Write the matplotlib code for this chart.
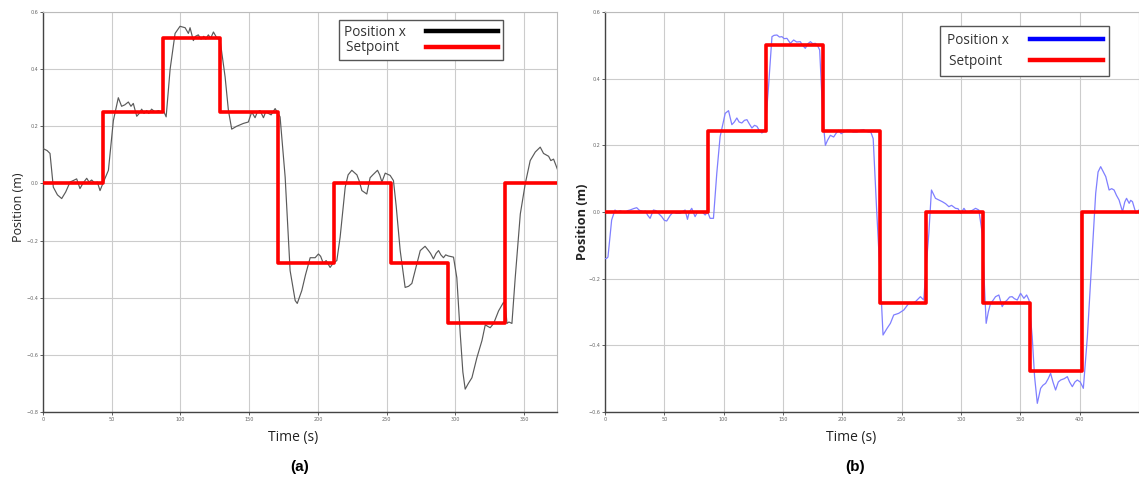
import matplotlib
matplotlib.use("Agg")
import matplotlib.pyplot as plt
from matplotlib.lines import Line2D

# ---------------- data ----------------
# (a) setpoint steps
sp_a_t = [0, 44, 87, 129, 171, 211.5, 253, 295, 336, 375]
sp_a_y = [0.0, 0.25, 0.51, 0.25, -0.28, 0.0, -0.28, -0.49, 0.0, 0.0]

# (a) measured position
pos_a_t = [0, 3, 5.1, 7.5, 10.5, 13.6, 16.5, 19.7, 22, 24.5, 26.9, 29, 31.8, 33.5, 35.4, 37.9, 39.5,
           41.5, 44, 47.6, 51.2, 54.8, 57.2, 59.5, 62.1, 64, 65.7, 68.2, 70, 71.8, 73.5, 75.5, 77,
           79, 81.5, 84, 86, 87.6, 89.6, 92.5, 96.1, 99.7, 103.4, 105.8, 107, 109.4, 111, 113, 115,
           117, 118.5, 120.3, 122, 124, 126.4, 128.9, 132.5, 134.9, 137.3, 140.9, 145.8, 149.4,
           151.9, 154.3, 156, 157.9, 160.4, 162, 164, 166, 168.9, 172.5, 176.2, 179.8, 183.5, 185,
           188.3, 191, 194.4, 198, 200.4, 202, 204, 206, 208.9, 211, 213.8, 216.2, 219.9, 222,
           224.7, 228.4, 230, 232, 235.6, 238, 240, 243.4, 245, 246.6, 249, 252.6, 255, 257, 259.9,
           263.5, 266, 268.4, 270.8, 274.5, 278, 280.5, 282, 284.1, 286, 287.8, 289.5, 291.4, 293,
           295, 298.7, 301.1, 303.6, 305.5, 307.2, 309.5, 312.1, 315.7, 319.4, 321.8, 323.5, 325.4,
           327.9, 331.5, 335.1, 336.5, 337.6, 339, 341.2, 343.6, 347.3, 350.9, 354.5, 358.2, 361.8,
           364.2, 366, 367.9, 369.5, 371.5, 373.5, 375]
pos_a_y = [0.122, 0.115, 0.105, -0.013, -0.04, -0.053, -0.03, 0.005, 0.01, 0.016, -0.018, 0.0,
           0.018, 0.005, 0.012, 0.0, 0.005, -0.025, 0.005, 0.046, 0.22, 0.30, 0.27, 0.275, 0.285,
           0.27, 0.28, 0.235, 0.245, 0.26, 0.245, 0.255, 0.245, 0.26, 0.25, 0.255, 0.25, 0.255,
           0.233, 0.40, 0.525, 0.55, 0.545, 0.525, 0.545, 0.50, 0.515, 0.52, 0.505, 0.515, 0.505,
           0.52, 0.508, 0.53, 0.51, 0.50, 0.373, 0.256, 0.19, 0.20, 0.21, 0.215, 0.25, 0.23, 0.25,
           0.255, 0.23, 0.25, 0.245, 0.24, 0.262, 0.233, 0.022, -0.305, -0.41, -0.42, -0.375,
           -0.32, -0.26, -0.26, -0.247, -0.255, -0.28, -0.27, -0.294, -0.28, -0.27, -0.188,
           -0.013, 0.03, 0.046, 0.03, 0.01, -0.025, -0.037, 0.02, 0.03, 0.046, 0.03, 0.005, 0.036,
           0.028, 0.01, -0.08, -0.235, -0.364, -0.36, -0.35, -0.305, -0.235, -0.22, -0.235,
           -0.245, -0.264, -0.245, -0.235, -0.25, -0.26, -0.25, -0.254, -0.258, -0.33, -0.527,
           -0.66, -0.72, -0.70, -0.68, -0.61, -0.55, -0.495, -0.5, -0.505, -0.49, -0.446, -0.416,
           -0.43, -0.49, -0.485, -0.49, -0.33, -0.107, -0.001, 0.08, 0.11, 0.127, 0.105, 0.1,
           0.095, 0.08, 0.085, 0.06, 0.04]

# (b) setpoint steps
sp_b_t = [0, 86.6, 135.6, 183.4, 231.5, 270.9, 318.4, 357.8, 401.7, 450]
sp_b_y = [0.0, 0.244, 0.50, 0.244, -0.274, 0.0, -0.274, -0.477, 0.0, 0.0]

# (b) measured position
pos_b_t = [0, 1.4, 2.5, 5.6, 8.4, 10.5, 12.7, 15, 16.9, 19, 21.1, 24, 26.7, 29, 32.4, 34, 36, 38,
           40.8, 43, 45, 47.8, 50, 52, 55, 57.7, 60, 63.3, 65, 67.5, 69.5, 71, 73.1, 75.9, 78,
           80.2, 82, 84.4, 86.5, 88.6, 91.4, 94.2, 97, 101.3, 104.1, 106.9, 109, 111.1, 113,
           115.3, 117.5, 119.6, 121.5, 123.8, 126, 128, 130, 132.2, 135, 137.8, 140.7, 142.5,
           144.9, 147, 149.1, 151, 153.3, 156.2, 159, 161.5, 164.6, 166.5, 168.8, 171, 173.1, 175,
           177.3, 179, 180.9, 183.7, 185.7, 187.5, 189.9, 192.7, 194.5, 196.9, 199, 201.2, 204,
           206.8, 209, 212.4, 215, 218, 220, 222.3, 224, 226, 229, 232, 234.3, 237.7, 240.5,
           243.3, 247.5, 251.8, 256, 258.5, 261.6, 265.8, 268.6, 270, 272.9, 275.1, 278.5, 284.2,
           287, 289.8, 292, 295.4, 297.5, 299.7, 302.5, 304.5, 306.7, 309.5, 312.3, 315, 317.9,
           319.8, 321.2, 323, 324.9, 327, 329.1, 331.9, 334.7, 337, 338.9, 341, 343.1, 345, 347.4,
           350.2, 353, 355.3, 357.3, 360, 362, 364.3, 367.1, 369, 371.3, 373.5, 375.5, 377.5,
           379.7, 382, 384, 387, 389.6, 391.5, 393.8, 396, 398, 400.5, 403.1, 406.5, 410.7, 413.5,
           415.5, 417.7, 420, 422, 424.8, 427, 429, 431, 433.2, 436.1, 438, 439.5, 441.7, 443,
           444.5, 447.4, 450]
pos_b_y = [-0.14, -0.139, -0.135, -0.024, 0.006, 0.0, 0.004, 0.0, -0.002, 0.004, 0.006, 0.01,
           0.013, 0.005, 0.001, 0.003, -0.01, -0.019, 0.006, 0.004, -0.004, -0.014, -0.025,
           -0.027, -0.01, 0.001, -0.004, -0.004, 0.0, 0.006, -0.022, 0.0, 0.011, -0.014, 0.0,
           0.001, 0.0, -0.009, 0.0, -0.019, -0.019, 0.116, 0.226, 0.296, 0.304, 0.262, 0.27,
           0.282, 0.27, 0.267, 0.275, 0.277, 0.265, 0.252, 0.26, 0.257, 0.245, 0.237, 0.246,
           0.376, 0.526, 0.53, 0.531, 0.525, 0.526, 0.52, 0.521, 0.506, 0.516, 0.51, 0.511, 0.5,
           0.491, 0.505, 0.511, 0.505, 0.506, 0.5, 0.486, 0.276, 0.20, 0.215, 0.23, 0.225, 0.235,
           0.245, 0.235, 0.24, 0.245, 0.245, 0.24, 0.24, 0.245, 0.247, 0.242, 0.24, 0.24, 0.22,
           0.0, -0.2, -0.369, -0.349, -0.334, -0.309, -0.304, -0.294, -0.274, -0.275, -0.269,
           -0.254, -0.264, -0.194, -0.064, 0.066, 0.041, 0.031, 0.025, 0.016, 0.02, 0.011, 0.01,
           -0.004, 0.011, 0.0, 0.001, 0.005, 0.011, 0.006, -0.064, -0.224, -0.334, -0.3, -0.274,
           -0.265, -0.254, -0.249, -0.284, -0.27, -0.264, -0.255, -0.254, -0.26, -0.264, -0.244,
           -0.259, -0.249, -0.264, -0.374, -0.494, -0.574, -0.529, -0.52, -0.514, -0.5, -0.484,
           -0.51, -0.534, -0.51, -0.504, -0.5, -0.494, -0.51, -0.524, -0.51, -0.504, -0.51,
           -0.529, -0.374, -0.114, 0.056, 0.12, 0.136, 0.12, 0.106, 0.066, 0.07, 0.066, 0.05,
           0.036, 0.001, 0.03, 0.041, 0.026, 0.035, 0.031, -0.004, 0.006]

legend_labels = ["Position x", "Setpoint"]

xticks_a = [0, 50, 100, 150, 200, 250, 300, 350]
yticks_a = [-0.8, -0.6, -0.4, -0.2, 0.0, 0.2, 0.4, 0.6]
xticks_b = [0, 50, 100, 150, 200, 250, 300, 350, 400]
yticks_b = [-0.6, -0.4, -0.2, 0.0, 0.2, 0.4, 0.6]

# ---------------- figure ----------------
W, H = 1139, 486
fig = plt.figure(figsize=(W / 100, H / 100), dpi=100)
fig.patch.set_facecolor("white")
font = "Open Sans"
legsize = 9.8


def fx(px):
    return px / W


def fy(py):
    return 1 - py / H


ax1 = fig.add_axes([fx(43), fy(412), fx(557) - fx(43), fy(12) - fy(412)])
ax2 = fig.add_axes([fx(605), fy(412), fx(1139) - fx(605), fy(12) - fy(412)])


def style(ax, xt, yt, xlim, ylim):
    ax.set_xlim(*xlim)
    ax.set_ylim(*ylim)
    ax.set_xticks(xt)
    ax.set_yticks(yt)
    ax.set_xticklabels([f"{v:g}" for v in xt])
    ax.set_yticklabels([f"{v:.1f}".replace("-", "\u2212") for v in yt])
    ax.tick_params(labelsize=3.5, labelcolor="#666666", length=2, width=0.6, color="#444444", pad=1.5)
    ax.grid(True, color="#cccccc", linewidth=0.8)
    ax.set_axisbelow(True)
    for s in ["left", "bottom"]:
        ax.spines[s].set_color("#444444")
        ax.spines[s].set_linewidth(1.0)
    for s in ["top", "right"]:
        ax.spines[s].set_color("#bbbbbb")
        ax.spines[s].set_linewidth(0.8)


style(ax1, xticks_a, yticks_a, (0, 374), (-0.8, 0.6))
style(ax2, xticks_b, yticks_b, (0, 450), (-0.6, 0.6))

ax1.plot(pos_a_t, pos_a_y, color="#5a5a5a", lw=0.85, zorder=3)
ax1.plot(sp_a_t, sp_a_y, color="#ff0000", lw=2.6, drawstyle="steps-post", zorder=4)

ax2.plot(pos_b_t, pos_b_y, color="#7f7fff", lw=0.9, zorder=3)
ax2.plot(sp_b_t, sp_b_y, color="#ff0000", lw=2.6, drawstyle="steps-post", zorder=4)

# pad labels with trailing spaces so they look left-aligned when text sits before the handle
renderer = fig.canvas.get_renderer()


def text_width(s):
    t = fig.text(0, 0, s, family=font, fontsize=legsize)
    w = t.get_window_extent(renderer).width
    t.remove()
    return w


target = max(text_width(s) for s in legend_labels)
padded = []
for s in legend_labels:
    p = s
    while text_width(p + "\u00a0") <= target + 1.5 and len(p) < len(s) + 12:
        p = p + "\u00a0"
    padded.append(p)

h_a = [Line2D([], [], color="black", lw=3.2), Line2D([], [], color="#ff0000", lw=3.2)]
leg1 = ax1.legend(h_a, padded, loc="upper left",
                  bbox_to_anchor=(fx(339), fy(20)), bbox_transform=fig.transFigure,
                  borderaxespad=0, markerfirst=False, handlelength=5.3, handletextpad=1.5,
                  labelspacing=0.05, borderpad=0.35, fancybox=False, framealpha=1,
                  prop={"family": font, "size": legsize})
leg1.get_frame().set_edgecolor("#555555")
leg1.get_frame().set_linewidth(1.0)

h_b = [Line2D([], [], color="#0000ff", lw=3.2), Line2D([], [], color="#ff0000", lw=3.2)]
leg2 = ax2.legend(h_b, padded, loc="upper left",
                  bbox_to_anchor=(fx(940), fy(26)), bbox_transform=fig.transFigure,
                  borderaxespad=0, markerfirst=False, handlelength=5.3, handletextpad=1.6,
                  labelspacing=0.45, borderpad=0.5, fancybox=False, framealpha=1,
                  prop={"family": font, "size": legsize})
leg2.get_frame().set_edgecolor("#555555")
leg2.get_frame().set_linewidth(1.0)

for leg in (leg1, leg2):
    for t in leg.get_texts():
        t.set_color("#333333")

# axis labels placed to match the reference
fig.text(fx(18), fy(207), "Position (m)", rotation=90, ha="center", va="center",
         family=font, fontsize=9, color="#222222")
fig.text(fx(583), fy(222), "Position (m)", rotation=90, ha="center", va="center",
         family=font, fontsize=9.2, fontweight="bold", color="#222222")
fig.text(fx(293), fy(437), "Time (s)", ha="center", va="center",
         family=font, fontsize=10, color="#222222")
fig.text(fx(851), fy(437), "Time (s)", ha="center", va="center",
         family=font, fontsize=10, color="#222222")

fig.text(fx(300), fy(467), "(a)", ha="center", va="center",
         family="Liberation Sans", fontsize=11, fontweight="bold")
fig.text(fx(855), fy(467), "(b)", ha="center", va="center",
         family="Liberation Sans", fontsize=11, fontweight="bold")

fig.savefig("out.png", dpi=100, facecolor="white")
